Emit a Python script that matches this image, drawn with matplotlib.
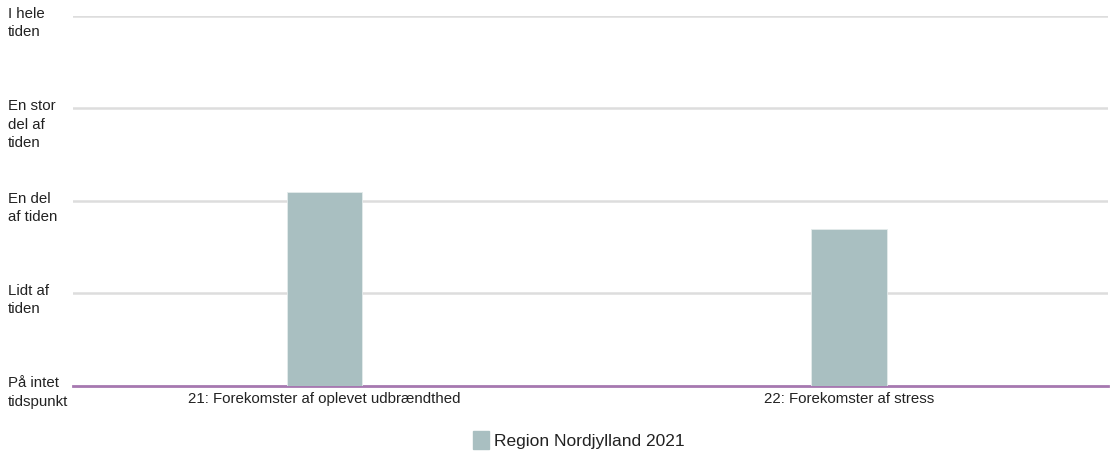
import matplotlib.pyplot as plt
import matplotlib.transforms as mtransforms
from matplotlib.patches import Patch

plt.rcParams['font.family'] = ['Liberation Sans', 'DejaVu Sans']

categories = ['21: Forekomster af oplevet udbrændthed', '22: Forekomster af stress']
values = [2.09, 1.69]
level_labels = ['På intet\ntidspunkt', 'Lidt af\ntiden', 'En del\naf tiden',
                'En stor\ndel af\ntiden', 'I hele\ntiden']
series_name = 'Region Nordjylland 2021'

bar_color = '#a9bfc1'
text_color = '#222222'

fig = plt.figure(figsize=(11.11, 4.57), dpi=100)
ax = fig.add_axes([73 / 1111, 71.5 / 457, 1035 / 1111, 369.5 / 457])

x = list(range(len(categories)))
ax.bar(x, values, width=0.144, color=bar_color, edgecolor='#e4ecec', linewidth=0.6, zorder=2)

# gridlines for the levels
for lvl in range(1, len(level_labels)):
    ax.axhline(lvl, color='#dddddd', linewidth=1.8, zorder=1)
ax.axhline(0, color='#a678b0', linewidth=2, zorder=1.5, clip_on=False)

ax.set_xlim(-0.479, 1.494)
ax.set_ylim(0, 4)
for s in ax.spines.values():
    s.set_visible(False)
ax.set_yticks([])
ax.set_xticks(x)
ax.set_xticklabels(categories, fontsize=10.8, color=text_color)
ax.tick_params(axis='x', length=0, pad=5)

# wrapped level labels, left aligned in the margin
trans = mtransforms.blended_transform_factory(fig.transFigure, ax.transData)
for lvl, lab in enumerate(level_labels):
    ax.annotate(lab, xy=(8 / 1111, lvl), xycoords=trans, xytext=(0, 6.5),
                textcoords='offset points', ha='left', va='top', fontsize=10.8,
                linespacing=1.4, color=text_color, annotation_clip=False)

fig.legend(handles=[Patch(color=bar_color)], labels=[series_name],
           loc='center', bbox_to_anchor=(579 / 1111, 1 - 440 / 457),
           frameon=False, fontsize=12.5, handlelength=0.9, handleheight=1.2,
           handletextpad=0.3, labelcolor=text_color)

fig.savefig('out.png', dpi=100)
